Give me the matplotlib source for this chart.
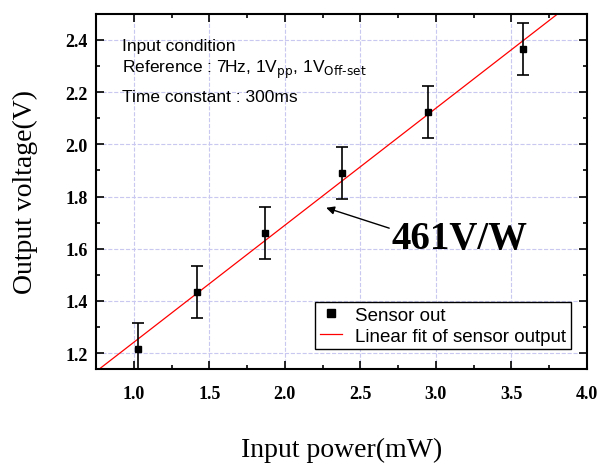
import matplotlib
matplotlib.use("Agg")
import matplotlib.pyplot as plt
import numpy as np
from matplotlib.ticker import MultipleLocator
from matplotlib.lines import Line2D

# measured points (input power in mW, output voltage in V)
power = [1.03, 1.42, 1.87, 2.38, 2.95, 3.58]
voltage = [1.215, 1.435, 1.66, 1.89, 2.125, 2.365]
err = [0.1, 0.1, 0.1, 0.1, 0.1, 0.1]
fit_range = [0.78, 4.0]

fig = plt.figure(figsize=(6, 4.64), dpi=100)
ax = fig.add_axes([0.16, 0.203, 0.818, 0.765])

slope, icpt = np.polyfit(power, voltage, 1)
xf = np.array(fit_range)
ax.plot(xf, slope * xf + icpt, color='red', lw=0.9, zorder=2)
ax.errorbar(power, voltage, yerr=err, fmt='s', color='black', ms=5, ecolor='black',
            elinewidth=1.2, capsize=4, capthick=1.2, zorder=3)

ax.set_xlim(0.75, 4.0)
ax.set_ylim(1.14, 2.5)
ax.xaxis.set_major_locator(MultipleLocator(0.5))
ax.xaxis.set_minor_locator(MultipleLocator(0.25))
ax.yaxis.set_major_locator(MultipleLocator(0.2))
ax.yaxis.set_minor_locator(MultipleLocator(0.1))
ax.tick_params(which='both', direction='in', top=True, right=True, width=1.2)
ax.tick_params(which='major', length=6)
ax.tick_params(which='minor', length=3)
for s in ax.spines.values():
    s.set_linewidth(1.5)
ax.grid(True, which='major', color='#c8c8f0', ls='--', lw=0.8)
ax.set_axisbelow(True)

for lab in ax.get_xticklabels() + ax.get_yticklabels():
    lab.set_fontfamily('Liberation Serif')
    lab.set_fontweight('bold')
    lab.set_fontsize(13)
ax.tick_params(axis='x', pad=12)
ax.tick_params(axis='y', pad=6)

ax.set_xlabel('Input power(mW)', fontfamily='Liberation Serif', fontsize=20, labelpad=25)
ax.set_ylabel('Output voltage(V)', fontfamily='Liberation Serif', fontsize=20, labelpad=20)

txt = dict(transform=ax.transAxes, fontfamily='Liberation Sans', fontsize=12.5, va='center')
ax.text(0.053, 0.91, 'Input condition', **txt)
ax.text(0.053, 0.845, r'Reference : 7Hz, 1V$_{\mathrm{pp}}$, 1V$_{\mathrm{Off\text{-}set}}$', **txt)
ax.text(0.053, 0.766, 'Time constant : 300ms', **txt)

ax.annotate('461V/W', xy=(2.274, 1.757), xytext=(2.71, 1.64),
            fontfamily='Liberation Serif', fontweight='bold', fontsize=28, va='center', ha='left',
            arrowprops=dict(arrowstyle='-|>', color='black', lw=1, mutation_scale=12,
                            shrinkA=0, shrinkB=0, relpos=(0, 0.75)))

handles = [Line2D([], [], marker='s', ls='none', color='black', ms=6),
           Line2D([], [], color='red', lw=0.9)]
leg = ax.legend(handles=handles, labels=['Sensor out', 'Linear fit of sensor output'],
                loc='lower right', bbox_to_anchor=(0.968, 0.055),
                prop={'family': 'Liberation Sans', 'size': 13.5}, frameon=True, fancybox=False,
                edgecolor='black', framealpha=1, handlelength=1.2, handletextpad=0.7,
                borderpad=0.25, labelspacing=0.2, borderaxespad=0)
leg.get_frame().set_linewidth(1.0)

fig.savefig('out.png', dpi=100)
